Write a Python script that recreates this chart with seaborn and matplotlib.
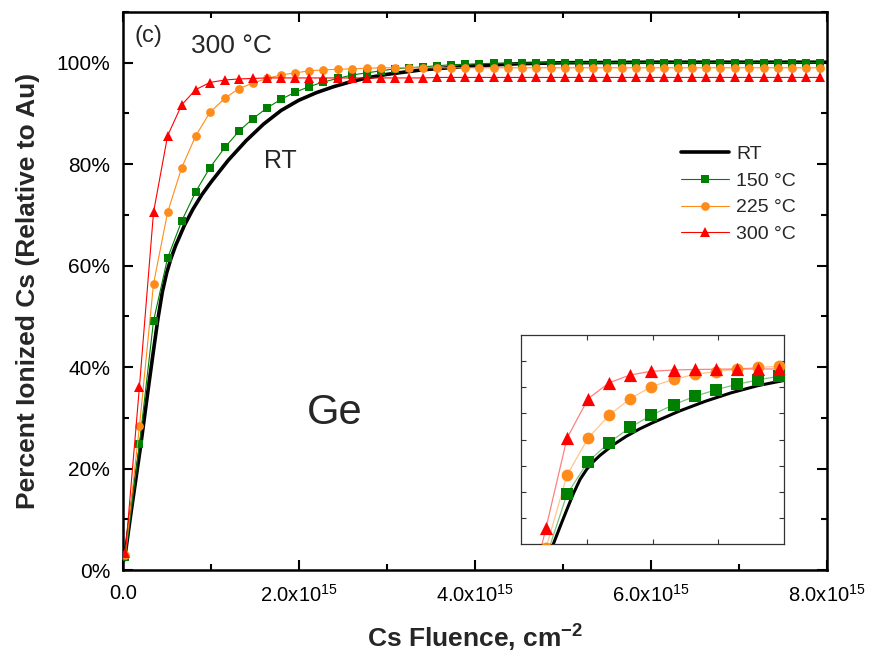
import numpy as np
import pandas as pd
import matplotlib
matplotlib.use("Agg")
import matplotlib.pyplot as plt
import seaborn as sns
from matplotlib.ticker import MultipleLocator

# ---------------- data (x in units of 1e15 cm^-2, y in %) ----------------
fluence = [0.03, 0.19, 0.35, 0.51, 0.67, 0.83, 0.99, 1.16, 1.32, 1.48,
           1.64, 1.80, 1.96, 2.12, 2.28, 2.44, 2.61, 2.77, 2.93, 3.09,
           3.25, 3.41, 3.57, 3.73, 3.89, 4.05, 4.22, 4.38, 4.54, 4.70,
           4.86, 5.02, 5.18, 5.34, 5.50, 5.67, 5.83, 5.99, 6.15, 6.31,
           6.47, 6.63, 6.79, 6.95, 7.11, 7.28, 7.44, 7.60, 7.76, 7.92]

y_150 = [2.5, 24.8, 49.1, 61.5, 68.8, 74.6, 79.3, 83.3, 86.5, 89.0,
         91.1, 92.8, 94.2, 95.3, 96.2, 96.9, 97.6, 98.0, 98.4, 98.8,
         99.0, 99.2, 99.4, 99.6, 99.7, 99.8, 99.9, 99.9, 99.9, 100.0,
         100.0, 100.0, 100.0, 100.0, 100.0, 100.0, 100.0, 100.0, 100.0, 100.0,
         100.0, 100.0, 100.0, 100.0, 100.0, 100.0, 100.0, 100.0, 100.0, 100.0]

y_225 = [3.0, 28.3, 56.4, 70.5, 79.3, 85.6, 90.2, 93.0, 94.9, 96.0,
         96.9, 97.6, 98.0, 98.4, 98.6, 98.7, 98.8, 98.9, 99.0, 99.0,
         99.0, 99.0, 99.0, 99.0, 99.0, 99.0, 99.0, 99.0, 99.0, 99.0,
         99.0, 99.0, 99.0, 99.0, 99.0, 99.0, 99.0, 99.0, 99.0, 99.0,
         99.0, 99.0, 99.0, 99.0, 99.0, 99.0, 99.0, 99.0, 99.0, 99.0]

y_300 = [3.4, 36.1, 70.5, 85.6, 91.7, 94.7, 96.1, 96.6, 96.8, 96.9,
         97.0, 97.0, 97.0, 97.0, 97.0, 97.0, 97.0, 97.0, 97.0, 97.0,
         97.0, 97.0, 97.1, 97.1, 97.1, 97.1, 97.1, 97.1, 97.1, 97.1,
         97.1, 97.1, 97.1, 97.1, 97.1, 97.1, 97.1, 97.1, 97.1, 97.1,
         97.1, 97.1, 97.1, 97.1, 97.1, 97.1, 97.1, 97.1, 97.1, 97.1]

rt_fluence = [0.02, 0.10, 0.20, 0.30, 0.35, 0.40, 0.45, 0.50, 0.55, 0.60,
              0.70, 0.80, 0.90, 1.00, 1.20, 1.40, 1.60, 1.80, 2.00, 2.20,
              2.40, 2.60, 2.80, 3.00, 3.40, 4.00, 4.50, 5.00, 6.00, 7.00, 8.00]
y_rt = [2.0, 12.0, 24.0, 37.0, 43.3, 49.5, 54.8, 58.6, 61.5, 63.9,
        67.9, 71.2, 74.0, 76.4, 80.8, 84.6, 87.9, 90.6, 92.6, 94.1,
        95.3, 96.3, 97.1, 97.7, 98.6, 99.4, 99.8, 100.0, 100.1, 100.1, 100.1]

series_labels = ["RT", "150 °C", "225 °C", "300 °C"]
series_colors = ["black", "#008000", "#FF8C1A", "#FF0000"]
series_markers = [None, "s", "o", "^"]

x_tick_values = [0, 2, 4, 6, 8]
x_tick_labels = ["0.0", "2.0x10$^{15}$", "4.0x10$^{15}$", "6.0x10$^{15}$", "8.0x10$^{15}$"]
y_tick_values = [0, 20, 40, 60, 80, 100]
y_tick_labels = ["0%", "20%", "40%", "60%", "80%", "100%"]

SCALE = 1e15

# ---------------- style ----------------
sns.set_theme(style="white")
plt.rcParams["font.family"] = ["Liberation Sans", "DejaVu Sans"]
plt.rcParams["mathtext.fontset"] = "custom"
plt.rcParams["mathtext.rm"] = "Liberation Sans"
plt.rcParams["mathtext.it"] = "Liberation Sans:italic"
plt.rcParams["mathtext.bf"] = "Liberation Sans:bold"

df_temp = pd.DataFrame({"x": np.array(fluence) * SCALE,
                        "150": y_150, "225": y_225, "300": y_300})
df_rt = pd.DataFrame({"x": np.array(rt_fluence) * SCALE, "y": y_rt})

fig = plt.figure(figsize=(8.72, 6.63), dpi=100)
ax = fig.add_axes([122.7 / 872, 1 - 570 / 663, (827 - 122.7) / 872, (570 - 12) / 663])

# main curves
sns.lineplot(data=df_rt, x="x", y="y", ax=ax, color=series_colors[0], lw=2.6,
             label=series_labels[0], sort=False, estimator=None, zorder=3)
msizes = [5.5, 6.3, 7.3]
for col, lab, c, m, ms in zip(["150", "225", "300"], series_labels[1:],
                              series_colors[1:], series_markers[1:], msizes):
    sns.lineplot(data=df_temp, x="x", y=col, ax=ax, color=c, lw=0.8,
                 marker=m, markersize=ms, markeredgewidth=0, label=lab,
                 sort=False, estimator=None, zorder=4)

ax.set_xlim(0, 8 * SCALE)
ax.set_ylim(0, 110)
ax.set_xticks([v * SCALE for v in x_tick_values])
ax.set_xticklabels(x_tick_labels)
ax.set_yticks(y_tick_values)
ax.set_yticklabels(y_tick_labels)
ax.xaxis.set_minor_locator(MultipleLocator(1 * SCALE))
ax.yaxis.set_minor_locator(MultipleLocator(10))
ax.tick_params(which="both", direction="in", top=True, right=True,
               bottom=True, left=True, colors="black", width=1.5)
ax.tick_params(axis="x", labelsize=14.5, pad=10)
ax.tick_params(axis="y", labelsize=15, pad=9)
ax.tick_params(which="major", length=7)
ax.tick_params(which="minor", length=4)
for sp in ax.spines.values():
    sp.set_color("black")
    sp.set_linewidth(1.8)

ax.set_xlabel("Cs Fluence, cm$^{\\mathbf{-2}}$", fontsize=19, fontweight="bold", labelpad=12)
ax.set_ylabel("Percent Ionized Cs (Relative to Au)", fontsize=19, fontweight="bold", labelpad=12)

# annotations
ax.text(0.29 * SCALE, 105.3, "(c)", fontsize=17, ha="center", va="center")
ax.text(1.23 * SCALE, 103.3, "300 °C", fontsize=19, ha="center", va="center")
ax.text(1.79 * SCALE, 80.7, "RT", fontsize=18, ha="center", va="center")
ax.text(2.41 * SCALE, 30.9, "Ge", fontsize=30, ha="center", va="center")

leg = ax.legend(loc="upper left", bbox_to_anchor=(0.792, 0.761), frameon=False,
                fontsize=14, handlelength=2.5, handletextpad=0.35,
                labelspacing=0.47, borderpad=0, borderaxespad=0)

# ---------------- inset ----------------
axi = fig.add_axes([521 / 872, 1 - 544 / 663, 263 / 872, 209 / 663])
sns.lineplot(data=df_rt, x="x", y="y", ax=axi, color="black", lw=2.2,
             sort=False, estimator=None, zorder=3)
imsizes = [8.0, 8.5, 9.5]
for col, c, m, ms in zip(["150", "225", "300"], series_colors[1:],
                         series_markers[1:], imsizes):
    sns.lineplot(data=df_temp, x="x", y=col, ax=axi, color=c, lw=0.9,
                 alpha=0.5, sort=False, estimator=None, zorder=4)
    sns.scatterplot(data=df_temp, x="x", y=col, ax=axi, color=c, marker=m,
                    s=ms ** 2, linewidth=0, zorder=5)
axi.set_xlim(0, 2 * SCALE)
axi.set_ylim(30, 110)
axi.set_xticks([0.5 * SCALE, 1.0 * SCALE, 1.5 * SCALE])
axi.set_yticks([40, 50, 60, 70, 80, 90, 100])
axi.set_xticklabels([])
axi.set_yticklabels([])
axi.set_xlabel("")
axi.set_ylabel("")
axi.tick_params(which="both", direction="in", top=True, right=True,
                bottom=True, left=True, length=3.5, width=0.8, colors="#333333")
for sp in axi.spines.values():
    sp.set_color("#333333")
    sp.set_linewidth(0.9)
if axi.get_legend() is not None:
    axi.get_legend().remove()

fig.savefig("out.png", dpi=100)
